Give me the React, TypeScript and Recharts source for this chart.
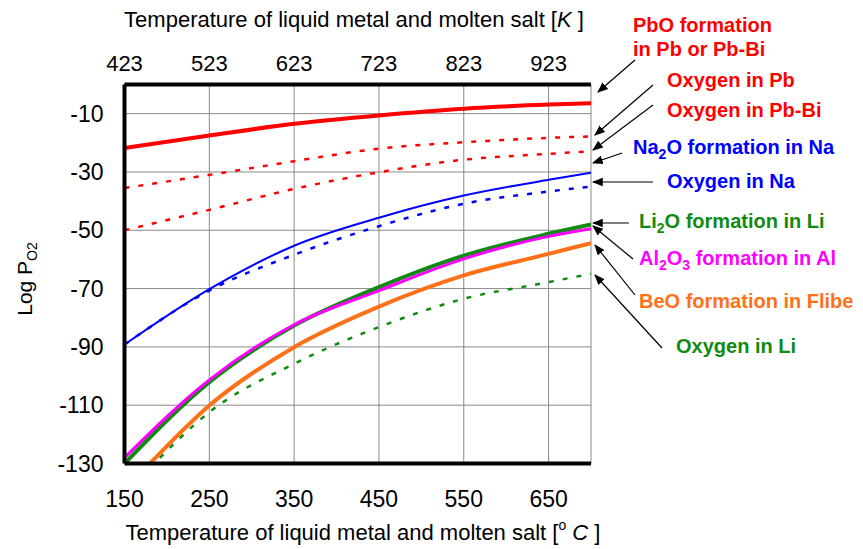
import { LineChart, Line, XAxis, YAxis, CartesianGrid } from 'recharts';

const FONT = "Arial, 'Liberation Sans', sans-serif";

// temperatures in deg C, the K axis is just +273
const TEMPS_C = [150, 180, 250, 350, 450, 550, 650, 700];
const C_TICKS = [150, 250, 350, 450, 550, 650];
const LOG_TICKS = [-130, -110, -90, -70, -50, -30, -10];

const pboFormation = [-21.8, null, -17.5, -13.5, -10.6, -8.3, -6.9, -6.4];
const oxygenInPb = [-35.5, null, -31, -26.3, -22, -19.8, -18.3, -17.8];
const oxygenInPbBi = [-50, null, -43, -35.8, -30.1, -25.8, -23.8, -22.9];
const na2oFormation = [-89.2, null, -70.2, -55.3, -45.7, -38.1, -32.7, -30.3];
const oxygenInNa = [-89.2, null, -70.7, -58.4, -48.6, -40.9, -36.7, -35];
const li2oFormation = [-130, null, -102.1, -82.7, -69.5, -58.7, -51.2, -48];
const al2o3Formation = [-128, null, -101.3, -82.4, -70.7, -59.8, -52.1, -49.5];
const beoFormation = [null, -130, -110.1, -90.1, -76.2, -65.5, -58.1, -54.4];
const oxygenInLi = [null, -131.5, -112.4, -95.8, -83.2, -73.5, -67.8, -64.9];

const data = TEMPS_C.map((t, i) => ({
  t,
  pbo: pboFormation[i],
  oPb: oxygenInPb[i],
  oPbBi: oxygenInPbBi[i],
  na2o: na2oFormation[i],
  oNa: oxygenInNa[i],
  li2o: li2oFormation[i],
  al2o3: al2o3Formation[i],
  beo: beoFormation[i],
  oLi: oxygenInLi[i],
}));

const RED = '#ff0000';
const BLUE = '#0000ff';
const GREEN = '#118a11';
const MAGENTA = '#ff00ff';
const ORANGE = '#ff7118';

const frame = { stroke: '#000', strokeWidth: 4 };
const tickStyle = { fill: '#000', fontSize: 23, fontFamily: FONT };

// label text + arrow (from -> to) on the right side
const notes = [
  { lines: ['PbO formation', 'in Pb or Pb-Bi'], color: RED, x: 633, y: 32, from: [635, 60], to: [598, 92] },
  { lines: ['Oxygen in Pb'], color: RED, x: 667, y: 87, from: [653, 85], to: [595, 135] },
  { lines: ['Oxygen in Pb-Bi'], color: RED, x: 667, y: 117, from: [653, 105], to: [593, 150] },
  { lines: ['Na|2|O formation in Na'], color: BLUE, x: 633, y: 154, from: [622, 153], to: [593, 163] },
  { lines: ['Oxygen in Na'], color: BLUE, x: 667, y: 188, from: [653, 182], to: [593, 182] },
  { lines: ['Li|2|O formation  in Li'], color: GREEN, x: 639, y: 228, from: [629, 223], to: [593, 223] },
  { lines: ['Al|2|O|3| formation in Al'], color: MAGENTA, x: 639, y: 265, from: [633, 259], to: [593, 226] },
  { lines: ['BeO formation in Flibe'], color: ORANGE, x: 639, y: 308, from: [635, 295], to: [595, 245] },
  { lines: ['Oxygen in Li'], color: GREEN, x: 676, y: 353, from: [662, 348], to: [595, 275] },
];

// "a|2|b" -> normal / subscript / normal ...
function richText(s: string) {
  return s.split('|').map((part, i) =>
    i % 2 === 1 ? (
      <tspan key={i} fontSize="14" dy="5">{part}</tspan>
    ) : (
      <tspan key={i} dy={i > 0 ? -5 : 0}>{part}</tspan>
    )
  );
}

function Annotations() {
  return (
    <svg
      width={863}
      height={549}
      style={{ position: 'absolute', left: 0, top: 0, pointerEvents: 'none' }}
    >
      <defs>
        <marker id="arr" viewBox="0 0 10 10" refX="9" refY="5" markerWidth="9" markerHeight="9" orient="auto">
          <path d="M0,1 L10,5 L0,9 Z" fill="#000" />
        </marker>
      </defs>
      {notes.map((n, i) => (
        <g key={i}>
          <line x1={n.from[0]} y1={n.from[1]} x2={n.to[0]} y2={n.to[1]} stroke="#000" strokeWidth={1.2} markerEnd="url(#arr)" />
          {n.lines.map((l, j) => (
            <text key={j} x={n.x} y={n.y + j * 24} fill={n.color} fontSize={20} fontWeight="bold" fontFamily={FONT}>
              {richText(l)}
            </text>
          ))}
        </g>
      ))}
      <text x={354} y={27} textAnchor="middle" fontSize={22} fontFamily={FONT}>
        Temperature of liquid metal and molten salt [<tspan fontStyle="italic">K</tspan> ]
      </text>
      <text x={363} y={540} textAnchor="middle" fontSize={22} fontFamily={FONT}>
        Temperature of liquid metal and molten salt [
        <tspan fontSize={14} dy={-10}>o</tspan>
        <tspan dy={10} fontStyle="italic"> C</tspan> ]
      </text>
      <text transform="translate(32,279) rotate(-90)" textAnchor="middle" fontSize={21} fontFamily={FONT}>
        Log P<tspan fontSize={14} dy={5}>O2</tspan>
      </text>
    </svg>
  );
}

export default function App() {
  return (
    <div style={{ position: 'absolute', left: 0, top: 0, width: 863, height: 549, background: '#fff' }}>
      <LineChart width={863} height={549} data={data} margin={{ top: 44.5, right: 272, bottom: 45.5, left: 0 }}>
        <CartesianGrid stroke="#8a8a8a" strokeWidth={1} xAxisId="c" yAxisId="log" />
        <XAxis
          xAxisId="c"
          dataKey="t"
          type="number"
          domain={[150, 700]}
          ticks={C_TICKS}
          height={40}
          tick={tickStyle}
          tickLine={false}
          tickSize={0}
          tickMargin={27}
          axisLine={frame}
          allowDataOverflow
        />
        <XAxis
          xAxisId="k"
          dataKey="t"
          orientation="top"
          type="number"
          domain={[150, 700]}
          ticks={C_TICKS}
          tickFormatter={(v: number) => String(v + 273)}
          height={40}
          tick={{ ...tickStyle, fontSize: 22 }}
          tickLine={false}
          tickSize={0}
          tickMargin={14}
          axisLine={frame}
          allowDataOverflow
        />
        <YAxis
          yAxisId="log"
          type="number"
          domain={[-130, 0]}
          ticks={LOG_TICKS}
          width={124.5}
          tick={tickStyle}
          tickLine={false}
          tickSize={0}
          tickMargin={21}
          axisLine={frame}
          allowDataOverflow
        />
        <YAxis
          yAxisId="right"
          orientation="right"
          type="number"
          domain={[-130, 0]}
          width={0}
          tick={false}
          tickLine={false}
          axisLine={frame}
        />
        {/* invisible series so the Kelvin axis gets a scale */}
        <Line xAxisId="k" yAxisId="right" dataKey="pbo" stroke="none" strokeOpacity={0} dot={false} isAnimationActive={false} />
        <Line xAxisId="c" yAxisId="log" dataKey="pbo" type="monotone" stroke={RED} strokeWidth={4} dot={false} connectNulls isAnimationActive={false} />
        <Line xAxisId="c" yAxisId="log" dataKey="oPb" type="monotone" stroke={RED} strokeWidth={2.5} strokeDasharray="5 9" dot={false} connectNulls isAnimationActive={false} />
        <Line xAxisId="c" yAxisId="log" dataKey="oPbBi" type="monotone" stroke={RED} strokeWidth={2.5} strokeDasharray="5 9" dot={false} connectNulls isAnimationActive={false} />
        <Line xAxisId="c" yAxisId="log" dataKey="na2o" type="monotone" stroke={BLUE} strokeWidth={2} dot={false} connectNulls isAnimationActive={false} />
        <Line xAxisId="c" yAxisId="log" dataKey="oNa" type="monotone" stroke={BLUE} strokeWidth={2.5} strokeDasharray="5 9" dot={false} connectNulls isAnimationActive={false} />
        <Line xAxisId="c" yAxisId="log" dataKey="li2o" type="monotone" stroke={GREEN} strokeWidth={4} dot={false} connectNulls isAnimationActive={false} />
        <Line xAxisId="c" yAxisId="log" dataKey="al2o3" type="monotone" stroke={MAGENTA} strokeWidth={3} dot={false} connectNulls isAnimationActive={false} />
        <Line xAxisId="c" yAxisId="log" dataKey="beo" type="monotone" stroke={ORANGE} strokeWidth={4} dot={false} isAnimationActive={false} />
        <Line xAxisId="c" yAxisId="log" dataKey="oLi" type="monotone" stroke={GREEN} strokeWidth={2.5} strokeDasharray="5 9" dot={false} isAnimationActive={false} />
      </LineChart>
      <Annotations />
    </div>
  );
}
